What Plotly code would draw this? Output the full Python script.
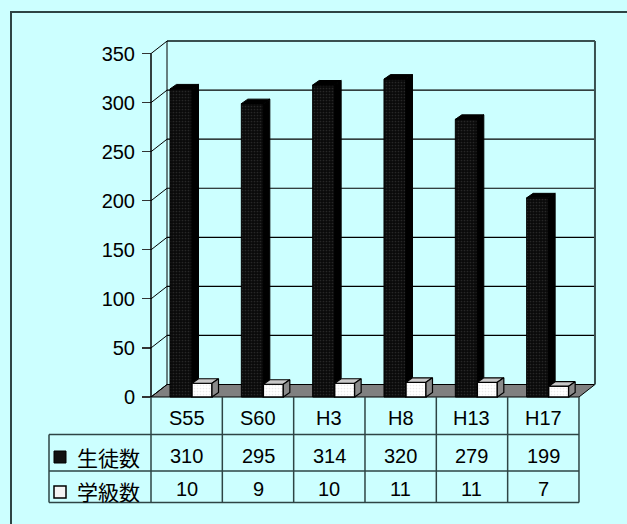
import plotly.graph_objects as go

# ---------------- data ----------------
categories = ["S55", "S60", "H3", "H8", "H13", "H17"]
students = [310, 295, 314, 320, 279, 199]      # 生徒数
classes = [10, 9, 10, 11, 11, 7]               # 学級数
series_names = ["生徒数", "学級数"]
y_ticks = [0, 50, 100, 150, 200, 250, 300, 350]

# ---------------- geometry (pixels -> axis units) ----------------
W, H = 627, 524
PL, PR, PT, PB = 145, 600, 36, 401          # plot area in px
CAT_PX = 71.33                               # px per category
X0_PX = 151                                  # px of category boundary -0.5
Y0_PX = 397                                  # px of value 0 (front)
PX_PER_UNIT = 0.98114                        # px per value unit
n = len(categories)

x_range = [(PL - X0_PX) / CAT_PX - 0.5, (PR - X0_PX) / CAT_PX - 0.5]
y_range = [(Y0_PX - PB) / PX_PER_UNIT, (Y0_PX - PT) / PX_PER_UNIT]

DX = 16 / CAT_PX            # wall depth (x)
DY = 12.5 / PX_PER_UNIT     # wall depth (y)
ddx = 6.5 / CAT_PX          # bar depth (x)
ddy = 4.5 / PX_PER_UNIT     # bar depth (y)
LIFT = 4.0                  # perspective lift of bars

b_off, b_w = -0.5 + 19 / CAT_PX, 22 / CAT_PX
w_off, w_w = -0.5 + 41 / CAT_PX, 20 / CAT_PX


def pxx(p):
    return (p - PL) / (PR - PL)


def pxy(p):
    return (PB - p) / (PB - PT)


BG = "#CCFFFF"
x_lo = -0.5
x_front_hi = n - 0.5
x_back_hi = x_front_hi + DX
vmax = max(y_ticks)

fig = go.Figure()

# front faces
fig.add_trace(go.Bar(
    x=list(range(n)), y=[v + LIFT for v in students], base=0,
    offset=b_off, width=b_w, name=series_names[0],
    marker=dict(color="#000000",
                pattern=dict(shape=".", fgcolor="#444444", bgcolor="#0a0a0a",
                             size=3, solidity=0.25),
                line=dict(color="#000000", width=1)),
    hoverinfo="skip"))
fig.add_trace(go.Bar(
    x=list(range(n)), y=[v + LIFT for v in classes], base=0,
    offset=w_off, width=w_w, name=series_names[1],
    marker=dict(color="#ffffff",
                pattern=dict(shape=".", fgcolor="#d8d8d8", bgcolor="#ffffff",
                             size=3, solidity=0.25),
                line=dict(color="#000000", width=1.5)),
    hoverinfo="skip"))

# 3D faces
bt_x, bt_y, bs_x, bs_y, wt_x, wt_y, ws_x, ws_y = ([] for _ in range(8))
for i in range(n):
    v = students[i] + LIFT
    wv = classes[i] + LIFT
    x0 = i + b_off
    x1 = x0 + b_w
    bt_x += [x0, x1, x1 + ddx, x0 + ddx, x0, None]
    bt_y += [v, v, v + ddy, v + ddy, v, None]
    bs_x += [x1, x1 + ddx, x1 + ddx, x1, x1, None]
    bs_y += [wv, wv + ddy, v + ddy, v, wv, None]
    u0 = i + w_off
    u1 = u0 + w_w
    wt_x += [u0, u1, u1 + ddx, u0 + ddx, u0, None]
    wt_y += [wv, wv, wv + ddy, wv + ddy, wv, None]
    ws_x += [u1, u1 + ddx, u1 + ddx, u1, u1, None]
    ws_y += [0, ddy, wv + ddy, wv, 0, None]

for xs, ys, fc, lc, lw in [
    (bs_x, bs_y, "#000000", "#000000", 1),
    (bt_x, bt_y, "#000000", "#000000", 1),
    (wt_x, wt_y, "#c8c8c8", "#000000", 1.2),
    (ws_x, ws_y, "#8a8a8a", "#000000", 1.2),
]:
    fig.add_trace(go.Scatter(x=xs, y=ys, mode="lines", fill="toself",
                             fillcolor=fc, line=dict(color=lc, width=lw),
                             hoverinfo="skip", showlegend=False))

shapes = []
# floor
shapes.append(dict(type="path", xref="x", yref="y", layer="below",
                   path=f"M {x_lo},0 L {x_front_hi},0 L {x_back_hi},{DY} L {x_lo + DX},{DY} Z",
                   fillcolor="#808080", line=dict(color="#000000", width=1)))
# back wall gridlines & left wall diagonals
for v in y_ticks:
    if v > 0:
        top = v == vmax
        shapes.append(dict(type="line", xref="x", yref="y", layer="below",
                           x0=x_lo + DX, x1=x_back_hi, y0=v + DY, y1=v + DY,
                           line=dict(color="#3a5050" if top else "#000000",
                                     width=2 if top else 1.2)))
    shapes.append(dict(type="line", xref="x", yref="y", layer="below",
                       x0=x_lo, x1=x_lo + DX, y0=v, y1=v + DY,
                       line=dict(color="#000000", width=1)))
shapes.append(dict(type="line", xref="x", yref="y", layer="below",
                   x0=x_lo + DX, x1=x_lo + DX, y0=DY, y1=vmax + DY,
                   line=dict(color="#000000", width=1)))
shapes.append(dict(type="line", xref="x", yref="y", layer="below",
                   x0=x_back_hi, x1=x_back_hi, y0=DY, y1=vmax + DY,
                   line=dict(color="#3a5050", width=2)))
# front value axis line
shapes.append(dict(type="line", xref="x", yref="y",
                   x0=x_lo, x1=x_lo, y0=0, y1=vmax,
                   line=dict(color="#000000", width=1.5)))

# data table
TC = "#2e4444"
row_top, row1, row2, row3 = 397, 434.5, 471, 502.5
leg_left = 49
bx = [X0_PX + k * CAT_PX for k in range(n + 1)]
for p in bx:
    shapes.append(dict(type="line", xref="paper", yref="paper",
                       x0=pxx(p), x1=pxx(p), y0=pxy(row_top), y1=pxy(row3),
                       line=dict(color=TC, width=1.5)))
shapes.append(dict(type="line", xref="paper", yref="paper",
                   x0=pxx(leg_left), x1=pxx(leg_left), y0=pxy(row1), y1=pxy(row3),
                   line=dict(color=TC, width=1.5)))
for r in (row1, row2, row3):
    shapes.append(dict(type="line", xref="paper", yref="paper",
                       x0=pxx(leg_left), x1=pxx(bx[-1]), y0=pxy(r), y1=pxy(r),
                       line=dict(color=TC, width=1.5)))
# legend keys
shapes.append(dict(type="rect", xref="paper", yref="paper",
                   x0=pxx(54), x1=pxx(66), y0=pxy(451), y1=pxy(463),
                   fillcolor="#111111", line=dict(color="#000000", width=1)))
shapes.append(dict(type="rect", xref="paper", yref="paper",
                   x0=pxx(54), x1=pxx(66), y0=pxy(486), y1=pxy(498),
                   fillcolor="#f4f4f4", line=dict(color="#000000", width=1.5)))
# chart area border
shapes.append(dict(type="rect", xref="paper", yref="paper",
                   x0=pxx(11), x1=pxx(700), y0=pxy(12), y1=pxy(600),
                   line=dict(color="#2e4444", width=2), fillcolor="rgba(0,0,0,0)"))

NUM_FONT = dict(family="Liberation Sans, Arial, sans-serif", size=20, color="#000000")
CJK_FONT = dict(family="Noto Sans CJK JP, sans-serif", size=21, color="#000000")

annotations = []
for i, c in enumerate(categories):
    annotations.append(dict(x=i, xref="x", y=pxy(417.5), yref="paper", text=c,
                            showarrow=False, font=NUM_FONT, xanchor="center", yanchor="middle"))
    annotations.append(dict(x=i, xref="x", y=pxy(456), yref="paper", text=str(students[i]),
                            showarrow=False, font=NUM_FONT, xanchor="center", yanchor="middle"))
    annotations.append(dict(x=i, xref="x", y=pxy(489), yref="paper", text=str(classes[i]),
                            showarrow=False, font=NUM_FONT, xanchor="center", yanchor="middle"))
for name, yc in zip(series_names, (457, 491)):
    annotations.append(dict(x=pxx(75), xref="paper", y=pxy(yc), yref="paper", text=name,
                            showarrow=False, font=CJK_FONT, xanchor="left", yanchor="middle"))

fig.update_layout(
    width=W, height=H, autosize=False,
    margin=dict(l=PL, r=W - PR, t=PT, b=H - PB, pad=0),
    paper_bgcolor=BG, plot_bgcolor=BG,
    showlegend=False, barmode="overlay",
    shapes=shapes, annotations=annotations,
    xaxis=dict(range=x_range, visible=False, fixedrange=True),
    yaxis=dict(range=y_range, showgrid=False, zeroline=False, showline=False,
               tickmode="array", tickvals=y_ticks, ticktext=[str(t) for t in y_ticks],
               ticks="outside", ticklen=9, tickwidth=1.2, tickcolor="#333333",
               tickfont=NUM_FONT, ticklabelstandoff=3,
               anchor="free", position=pxx(X0_PX), fixedrange=True),
)

fig.write_html("out.html", config={"displayModeBar": False, "staticPlot": True})
